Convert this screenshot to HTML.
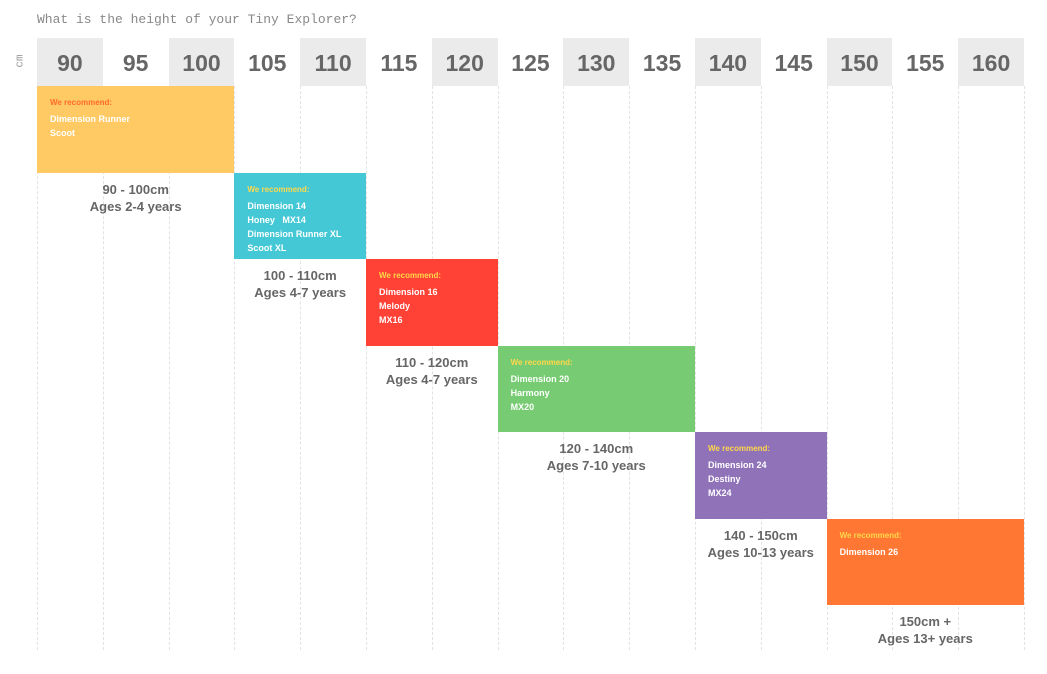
<!DOCTYPE html>
<html><head><meta charset="utf-8"><style>
body{margin:0;width:1047px;height:674px;background:#fff;font-family:"Liberation Sans",sans-serif;position:relative;overflow:hidden}
.t{position:absolute;left:37px;top:12px;font-family:"Liberation Mono",monospace;font-size:13px;color:#888}
.cm{position:absolute;left:14px;top:55px;font-family:"Liberation Mono",monospace;font-size:11px;color:#999;transform:rotate(-90deg)}
.h{position:absolute;top:38px;height:48px;line-height:50px;text-align:center;font-size:23px;font-weight:bold;color:#666}
.d{position:absolute;top:86px;height:564px;border-left:1px dashed #e2e2e2}
.b{position:absolute;color:#fff;font-weight:bold;font-size:9px;box-sizing:border-box;padding:10px 0 0 13px;line-height:14px}
.b .r{font-size:8px;margin-bottom:2px}
.l{position:absolute;text-align:center;font-weight:bold;font-size:13px;color:#666;line-height:17px}
</style></head><body>
<div class="t">What is the height of your Tiny Explorer?</div>
<div class="cm">cm</div>
<div id="c"></div>
<script>
const heights=[90,95,100,105,110,115,120,125,130,135,140,145,150,155,160];
const startCol=[0,3,5,7,10,12];
const spanCols=[3,2,2,3,2,3];
const colors=['#FFCA64','#45C8D6','#FF4136','#77CB72','#8F72B8','#FF7733'];
const recColors=['#FF6A2A','#FFD84A','#FFD84A','#FFD84A','#FFD84A','#FFD84A'];
const bikes=[['Dimension Runner','Scoot'],['Dimension 14','Honey &nbsp; MX14','Dimension Runner XL','Scoot XL'],['Dimension 16','Melody','MX16'],['Dimension 20','Harmony','MX20'],['Dimension 24','Destiny','MX24'],['Dimension 26']];
const ranges=['90 - 100cm','100 - 110cm','110 - 120cm','120 - 140cm','140 - 150cm','150cm +'];
const ages=['Ages 2-4 years','Ages 4-7 years','Ages 4-7 years','Ages 7-10 years','Ages 10-13 years','Ages 13+ years'];
const X0=37,CW=65.8,Y0=86,RH=86.5;
const x=i=>X0+i*CW;
const c=document.getElementById('c');
heights.forEach((h,i)=>{
 const e=document.createElement('div');e.className='h';
 
 
 e.style.left=x(i)+'px';e.style.width=CW+'px';e.style.background=i%2?'#fff':'#ebebeb';e.textContent=h;c.appendChild(e);
});
for(let i=0;i<=heights.length;i++){
 const d=document.createElement('div');d.className='d';
 
 
 d.style.left=x(i)+'px';c.appendChild(d);
}
startCol.forEach((s,i)=>{
 const b=document.createElement('div');b.className='b';
 
 
 b.style.left=x(s)+'px';b.style.width=(spanCols[i]*CW)+'px';b.style.top=(Y0+i*RH)+'px';b.style.height=RH+'px';b.style.background=colors[i];
 b.innerHTML='<div class="r" style="color:'+recColors[i]+'">We recommend:</div>'+bikes[i].join('<br>');
 c.appendChild(b);
 const l=document.createElement('div');l.className='l';
 
 
 l.style.left=x(s)+'px';l.style.width=(spanCols[i]*CW)+'px';l.style.top=(Y0+(i+1)*RH+8)+'px';
 l.innerHTML=ranges[i]+'<br>'+ages[i];c.appendChild(l);
});
</script>
</body></html>
